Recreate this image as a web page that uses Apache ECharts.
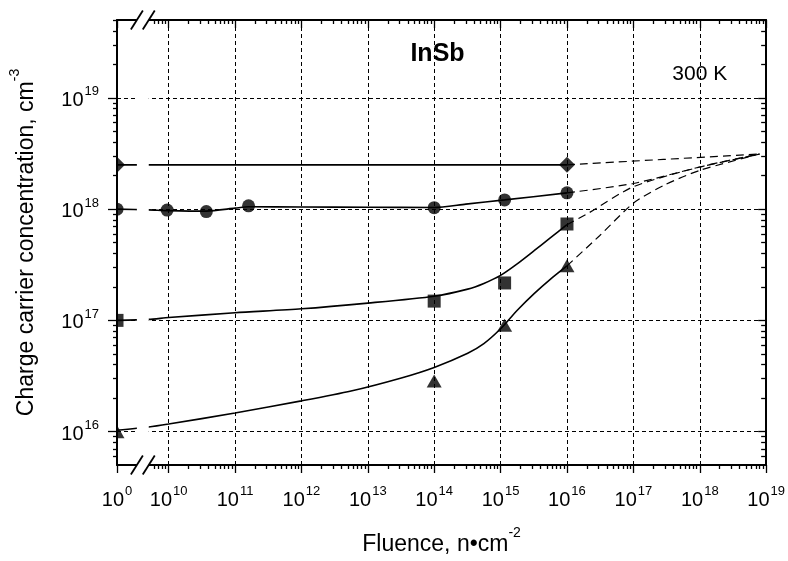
<!DOCTYPE html>
<html>
<head>
<meta charset="utf-8">
<script src="https://cdn.jsdelivr.net/npm/echarts@6/dist/echarts.min.js"></script>
<style>
html,body{margin:0;padding:0;background:#fff;}
#main{width:788px;height:561px;}
</style>
</head>
<body>
<div id="main"></div>
<script>
// ---------- data (fluence in n/cm^2, concentration in cm^-3) ----------
const fluenceLabelExps = [0, 10, 11, 12, 13, 14, 15, 16, 17, 18, 19];
const concLabelExps = [16, 17, 18, 19];

const diamondFluence = [1, 1e16];
const diamondConc = [2.5e18, 2.5e18];
const circleFluence = [1, 9.5e9, 3.7e10, 1.6e11, 1e14, 1.15e15, 1e16];
const circleConc = [1.0e18, 0.98e18, 0.95e18, 1.07e18, 1.03e18, 1.21e18, 1.40e18];
const squareFluence = [1, 1e14, 1.15e15, 1e16];
const squareConc = [1.0e17, 1.49e17, 2.17e17, 7.35e17];
const triangleFluence = [1, 1e14, 1.15e15, 1e16];
const triangleConc = [1.0e16, 2.85e16, 9.06e16, 3.09e17];

// solid fitted curves
const diamondFitFluence = [1, 1e16];
const diamondFitConc = [2.5e18, 2.5e18];
const circleFitFluence = [1, 5e9, 1e10, 3.7e10, 1e11, 1.6e11, 1e12, 1e13, 1e14, 3e14, 1.15e15, 1e16];
const circleFitConc = [1.0e18, 0.985e18, 0.97e18, 0.96e18, 1.02e18, 1.05e18, 1.045e18, 1.04e18, 1.035e18, 1.11e18, 1.21e18, 1.40e18];
const squareFitFluence = [1, 5e9, 1e10, 1e11, 1e12, 1e13, 1e14, 3.2e14, 5.6e14, 1e15, 1.8e15, 3.2e15, 5.6e15, 1e16];
const squareFitConc = [1.0e17, 1.02e17, 1.06e17, 1.17e17, 1.27e17, 1.43e17, 1.65e17, 1.91e17, 2.15e17, 2.54e17, 3.24e17, 4.23e17, 5.52e17, 7.24e17];
const triangleFitFluence = [1, 5e9, 1e10, 1e11, 1e12, 5.6e12, 3.2e13, 1e14, 3.2e14, 5.6e14, 1e15, 1.8e15, 3.2e15, 5.6e15, 1e16];
const triangleFitConc = [1.03e16, 1.1e16, 1.17e16, 1.47e16, 1.89e16, 2.32e16, 3.04e16, 3.78e16, 5.07e16, 6.18e16, 8.4e16, 1.24e17, 1.74e17, 2.34e17, 3.09e17];

// dashed extrapolations
const diamondExtFluence = [1e16, 8e18];
const diamondExtConc = [2.5e18, 3.13e18];
const circleExtFluence = [1e16, 1e17, 1e18, 8e18];
const circleExtConc = [1.40e18, 1.70e18, 2.39e18, 3.13e18];
const squareExtFluence = [1e16, 2.1e16, 1e17, 1e18, 8e18];
const squareExtConc = [7.24e17, 9.2e17, 1.59e18, 2.39e18, 3.13e18];
const triangleExtFluence = [1e16, 3.1e16, 1e17, 2.9e17, 1e18, 8e18];
const triangleExtConc = [3.09e17, 5.77e17, 1.13e18, 1.64e18, 2.23e18, 3.13e18];

// ---------- axis geometry (broken log axis) ----------
const ZERO_POS = 9.2226;   // axis position where 10^0 is drawn (left of the break)
const BREAK_A = 9.522, BREAK_B = 9.701;
const X_MAX = 19, Y_MIN = 15.70, Y_MAX = 19.70;

function xPos(f) { return f <= 1 ? ZERO_POS : Math.log10(f); }
function yPos(c) { return Math.log10(c); }
function pts(fs, cs) { return fs.map((f, i) => [xPos(f), yPos(cs[i])]); }

const xMajor = fluenceLabelExps.map(e => e === 0 ? ZERO_POS : e);
const xMinor = [];
for (let d = 9; d < 19; d++) for (let k = 2; k <= 9; k++) {
  const p = d + Math.log10(k);
  if (p > 9.75 && p < X_MAX) xMinor.push(p);
}
const yMajor = concLabelExps.slice();
const yMinor = [];
for (let d = 15; d < 20; d++) for (let k = 2; k <= 9; k++) {
  const p = d + Math.log10(k);
  if (p > Y_MIN + 0.001 && p < Y_MAX - 0.001) yMinor.push(p);
}

const FONT = "'Liberation Sans', Arial, sans-serif";
const rich = {
  b: { fontSize: 20, lineHeight: 25, verticalAlign: 'bottom', fontFamily: FONT, color: '#000' },
  s: { fontSize: 13, lineHeight: 12, verticalAlign: 'top', fontFamily: FONT, color: '#000', padding: [0, 0, 0, 1] }
};
function expLabel(e) { return '{b|10}{s|' + e + '}'; }

function xAxisDef(pos, showLine, showLabel, ticks, len, inside) {
  return {
    type: 'value', position: pos, min: ZERO_POS, max: X_MAX,
    axisLine: { show: showLine, onZero: false, lineStyle: { color: '#000', width: 2 } },
    axisTick: { show: true, inside: inside, length: len, customValues: ticks, lineStyle: { color: '#000', width: 1.3 } },
    axisLabel: showLabel ? {
      show: true, customValues: ticks, margin: 20,
      formatter: v => expLabel(Math.abs(v - ZERO_POS) < 1e-3 ? 0 : Math.round(v)), rich: rich
    } : { show: false },
    splitLine: { show: false }
  };
}
function yAxisDef(pos, showLine, showLabel, ticks, len, inside) {
  return {
    type: 'value', position: pos, min: Y_MIN, max: Y_MAX,
    axisLine: { show: showLine, onZero: false, lineStyle: { color: '#000', width: 2 } },
    axisTick: { show: true, inside: inside, length: len, customValues: ticks, lineStyle: { color: '#000', width: 1.3 } },
    axisLabel: showLabel ? {
      show: true, customValues: ticks, margin: 18,
      formatter: v => expLabel(Math.round(v)), rich: rich
    } : { show: false },
    splitLine: { show: false }
  };
}

const titleRich = {
  t: { fontSize: 23, lineHeight: 30, verticalAlign: 'bottom', fontFamily: FONT, color: '#000' },
  u: { fontSize: 14, lineHeight: 14, verticalAlign: 'top', fontFamily: FONT, color: '#000' }
};

const xAxes = [
  xAxisDef('bottom', true, true, xMajor, 8, false),
  xAxisDef('bottom', false, false, xMinor, 4, false),
  xAxisDef('top', true, false, xMajor, 8, true),
  xAxisDef('top', false, false, xMinor, 4, true)
];
xAxes[0].splitLine = { show: true, lineStyle: { color: '#000', width: 1, type: [4, 3] } };
xAxes[0].name = '{t|Fluence, n\u2022cm}{u|-2}';
xAxes[0].nameLocation = 'middle';
xAxes[0].nameGap = 61;
xAxes[0].nameTextStyle = { rich: titleRich };

const yAxes = [
  yAxisDef('left', true, true, yMajor, 9, false),
  yAxisDef('left', false, false, yMinor, 4, false),
  yAxisDef('right', true, false, yMajor, 8, true),
  yAxisDef('right', false, false, yMinor, 5, true)
];
yAxes[0].splitLine = { show: true, lineStyle: { color: '#000', width: 1, type: [4, 3] } };
yAxes[0].name = '{t|Charge carrier concentration, cm}{u|-3}';
yAxes[0].nameLocation = 'middle';
yAxes[0].nameGap = 79;
yAxes[0].nameRotate = 90;
yAxes[0].nameTextStyle = { rich: titleRich };

// half symbols for points sitting on the left axis (clipped by the frame)
const halfSym = {
  diamond: { symbol: 'path://M0,0L1,1L0,2Z', symbolSize: [8, 16], symbolOffset: [4, 0] },
  circle: { symbol: 'path://M0,0A1,1 0 0 1 0,2Z', symbolSize: [6.5, 13], symbolOffset: [3.25, 0] },
  rect: { symbol: 'rect', symbolSize: [6.5, 13], symbolOffset: [3.25, 0] },
  triangle: { symbol: 'path://M0,0L1,1L0,1Z', symbolSize: [7.5, 13], symbolOffset: [3.75, 0] }
};
function markerData(fs, cs, sym) {
  return fs.map((f, i) => {
    const d = { value: [xPos(f), yPos(cs[i])] };
    if (f <= 1) Object.assign(d, halfSym[sym]);
    return d;
  });
}
function markers(name, fs, cs, sym, size) {
  return { type: 'scatter', name: name, symbol: sym, symbolSize: size, z: 5,
    itemStyle: { color: '#000' }, data: markerData(fs, cs, sym), silent: true };
}
function fit(name, fs, cs) {
  return { type: 'line', name: name, data: pts(fs, cs), symbol: 'none', smooth: 0.25, z: 4,
    lineStyle: { color: '#000', width: 1.6 }, silent: true };
}
function ext(name, fs, cs) {
  return { type: 'line', name: name, data: pts(fs, cs), symbol: 'none', smooth: 0.25, z: 4,
    lineStyle: { color: '#000', width: 1.2, type: [8, 5] }, silent: true };
}

const option = {
  animation: false,
  backgroundColor: '#fff',
  grid: { left: 114, right: 20, top: 20, bottom: 91 },
  xAxis: xAxes,
  yAxis: yAxes,
  series: [
    fit('diamond fit', diamondFitFluence, diamondFitConc),
    fit('circle fit', circleFitFluence, circleFitConc),
    fit('square fit', squareFitFluence, squareFitConc),
    fit('triangle fit', triangleFitFluence, triangleFitConc),
    ext('diamond ext', diamondExtFluence, diamondExtConc),
    ext('circle ext', circleExtFluence, circleExtConc),
    ext('square ext', squareExtFluence, squareExtConc),
    ext('triangle ext', triangleExtFluence, triangleExtConc),
    markers('diamond', diamondFluence, diamondConc, 'diamond', [16, 16]),
    markers('circle', circleFluence, circleConc, 'circle', 13),
    markers('square', squareFluence, squareConc, 'rect', 13),
    markers('triangle', triangleFluence, triangleConc, 'triangle', [15, 13])
  ]
};

const chart = echarts.init(document.getElementById('main'), null, { renderer: 'canvas' });
chart.setOption(option);

// axis break decoration and annotations
const xa = chart.convertToPixel({ xAxisIndex: 0 }, BREAK_A);
const xb = chart.convertToPixel({ xAxisIndex: 0 }, BREAK_B);
const yTop = chart.convertToPixel({ yAxisIndex: 0 }, Y_MAX);
const yBot = chart.convertToPixel({ yAxisIndex: 0 }, Y_MIN);
const graphics = [
  { type: 'rect', z: 100, silent: true, shape: { x: xa, y: yTop - 10, width: xb - xa, height: yBot - yTop + 20 }, style: { fill: '#fff' } }
];
[yTop, yBot].forEach(yy => {
  [xa, xb].forEach(xx => {
    graphics.push({ type: 'line', z: 101, silent: true,
      shape: { x1: xx - 6, y1: yy + 9.5, x2: xx + 6, y2: yy - 9.5 },
      style: { stroke: '#000', lineWidth: 1.8 } });
  });
});
const xText1 = chart.convertToPixel({ xAxisIndex: 0 }, 14.05);
const xText2 = chart.convertToPixel({ xAxisIndex: 0 }, 18.0);
graphics.push({ type: 'text', z: 102, silent: true, x: xText1, y: 54,
  style: { text: 'InSb', font: "bold 25px " + FONT, fill: '#000', align: 'center', verticalAlign: 'middle' } });
graphics.push({ type: 'text', z: 102, silent: true, x: xText2, y: 74,
  style: { text: '300 K', font: "21px " + FONT, fill: '#000', align: 'center', verticalAlign: 'middle' } });
chart.setOption({ graphic: graphics });
</script>
</body>
</html>
